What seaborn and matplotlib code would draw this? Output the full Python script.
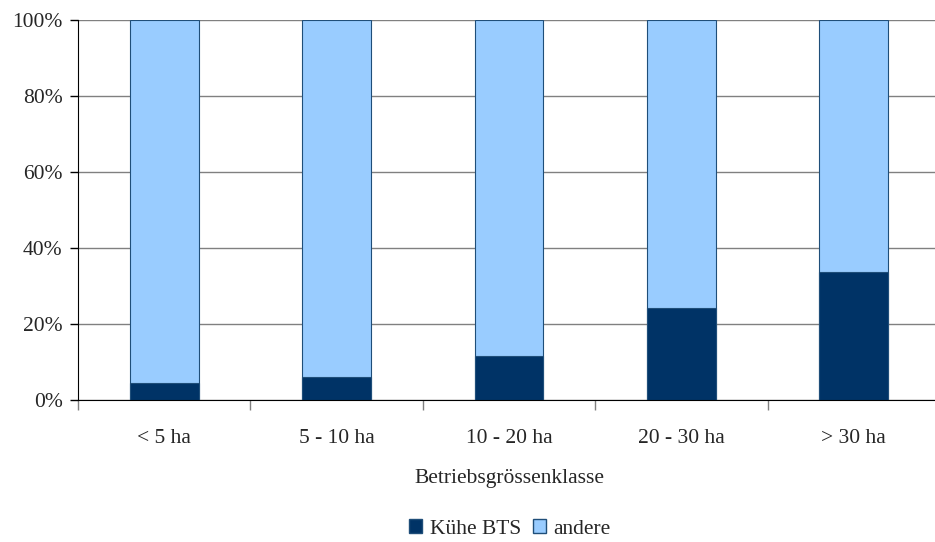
import numpy as np
import pandas as pd
import seaborn as sns
import matplotlib.pyplot as plt
from matplotlib.patches import Patch

# data (percent)
klassen = ["< 5 ha", "5 - 10 ha", "10 - 20 ha", "20 - 30 ha", "> 30 ha"]
kuehe_bts = [4.5, 6.0, 11.5, 24.3, 33.7]
andere = [95.5, 94.0, 88.5, 75.7, 66.3]

dark = "#003366"
light = "#99ccff"

sns.set_style("white")
plt.rcParams["font.family"] = ["Liberation Serif", "DejaVu Serif"]

df = pd.DataFrame({"klasse": klassen, "kuehe": kuehe_bts, "andere": andere})
df["total"] = df["kuehe"] + df["andere"]

fig = plt.figure(figsize=(9.35, 5.42), dpi=100)
ax = fig.add_axes([78 / 935, 1 - 400 / 542, 862 / 935, 380 / 542])

sns.barplot(data=df, x="klasse", y="total", color=light, width=0.4,
            edgecolor="#1f4e79", linewidth=0.8, saturation=1, ax=ax)
sns.barplot(data=df, x="klasse", y="kuehe", color=dark, width=0.4,
            edgecolor="#1f4e79", linewidth=0.8, saturation=1, ax=ax)

fs = 15.5
ax.set_ylim(0, 100)
ax.set_xlim(-0.5, 4.5)
ax.set_yticks(np.arange(0, 101, 20))
ax.set_yticklabels([f"{v}%" for v in range(0, 101, 20)], fontsize=fs)
ax.yaxis.grid(True, color="#808080", linewidth=1)
ax.set_axisbelow(True)

ax.set_xticks(range(len(klassen)))
ax.set_xticklabels(klassen, fontsize=fs)
ax.set_xticks(np.arange(-0.5, 5, 1), minor=True)
ax.tick_params(axis="x", which="major", bottom=True, length=0, pad=21)
ax.tick_params(axis="x", which="minor", bottom=True, length=7, color="#808080", width=1)
ax.tick_params(axis="y", left=True, length=6, width=1, color="black", pad=5)

ax.set_xlabel("Betriebsgrössenklasse", fontsize=fs, labelpad=15)
ax.set_ylabel("")

for s in ["top", "right"]:
    ax.spines[s].set_visible(False)
ax.spines["left"].set_color("black")
ax.spines["bottom"].set_color("black")

handles = [Patch(facecolor=dark, edgecolor="#1f4e79", label="Kühe BTS"),
           Patch(facecolor=light, edgecolor="#1f4e79", label="andere")]
fig.legend(handles=handles, loc="center", bbox_to_anchor=(510 / 935, 1 - 529 / 542),
           ncol=2, frameon=False, fontsize=fs, handlelength=0.6,
           handleheight=0.6, handletextpad=0.35, columnspacing=0.55,
           borderpad=0)

fig.savefig("out.png", dpi=100)
